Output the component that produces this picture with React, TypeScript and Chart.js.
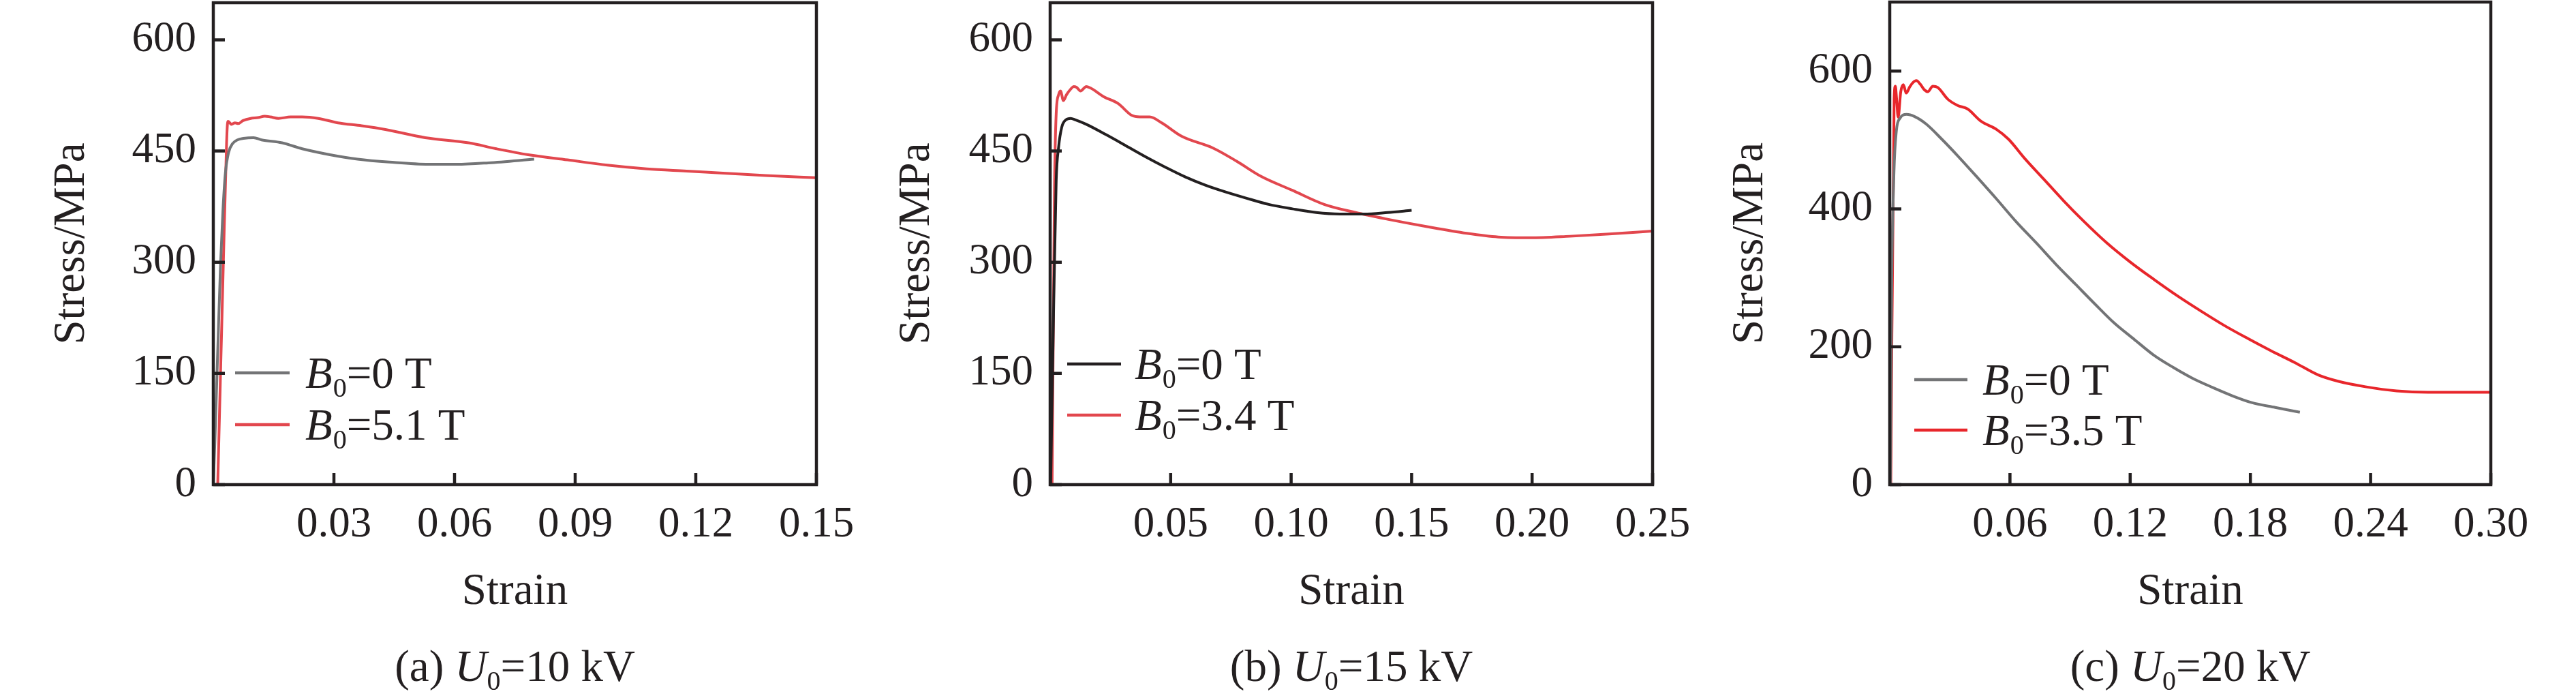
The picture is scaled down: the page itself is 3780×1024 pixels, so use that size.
import { useEffect, useRef } from 'react';
import Chart from 'chart.js/auto';

const SERIF = '"Liberation Serif", "Times New Roman", serif';
const INK = '#231f20';
const GRAY = '#737476';
const RED_SOFT = '#e2474e';
const RED = '#e8262b';

// (a) U0 = 10 kV
const strainA0 = [0, 0.0004, 0.0011, 0.0018, 0.0024, 0.003, 0.0038, 0.0048, 0.006, 0.0075, 0.01, 0.012, 0.0171, 0.0221, 0.029, 0.0359, 0.0438, 0.0536, 0.0605, 0.0684, 0.0798];
const stressA0 = [0, 60, 180, 297, 370, 420, 448, 460, 465, 467, 468, 465, 461, 453, 445, 439, 435, 432, 432, 434, 439];
const strainA1 = [0.0011, 0.0025, 0.0033, 0.0035, 0.0037, 0.0045, 0.0054, 0.0062, 0.0074, 0.0093, 0.0111, 0.0128, 0.0142, 0.0162, 0.0192, 0.0221, 0.0261, 0.031, 0.0369, 0.0428, 0.0527, 0.0635, 0.0704, 0.0783, 0.0881, 0.098, 0.1078, 0.1177, 0.1275, 0.1374, 0.15];
const stressA1 = [0, 300, 460, 485, 490, 486, 488, 487, 491, 494, 495, 497, 496, 494, 496, 496, 494, 488, 484, 479, 468, 461, 453, 445, 438, 431, 426, 423, 420, 417, 414];
const xTicksA = [0.03, 0.06, 0.09, 0.12, 0.15];
const yTicksA = [0, 150, 300, 450, 600];

// (b) U0 = 15 kV
const strainB0 = [0.0002, 0.0014, 0.0025, 0.0035, 0.0048, 0.0065, 0.0085, 0.0105, 0.015, 0.0232, 0.0315, 0.0397, 0.0479, 0.0561, 0.0644, 0.0726, 0.0808, 0.0907, 0.1005, 0.1104, 0.1202, 0.1301, 0.14, 0.15];
const stressB0 = [0, 230, 410, 455, 482, 492, 494, 492, 486, 472, 457, 442, 428, 415, 404, 395, 387, 378, 372, 367, 365, 365, 367, 370];
const strainB1 = [0.0008, 0.0018, 0.0025, 0.0035, 0.0043, 0.0055, 0.0068, 0.0084, 0.0098, 0.0109, 0.0126, 0.015, 0.0167, 0.0224, 0.0282, 0.0339, 0.0372, 0.0413, 0.0463, 0.0545, 0.0676, 0.0775, 0.0874, 0.1005, 0.1137, 0.1268, 0.14, 0.1564, 0.1729, 0.186, 0.1992, 0.2156, 0.232, 0.25];
const stressB1 = [0, 400, 500, 526, 531, 518, 526, 533, 537, 536, 531, 537, 535, 523, 514, 498, 496, 496, 488, 470, 454, 436, 416, 397, 378, 367, 358, 348, 339, 334, 333, 335, 338, 342];
const xTicksB = [0.05, 0.1, 0.15, 0.2, 0.25];
const yTicksB = [0, 150, 300, 450, 600];

// (c) U0 = 20 kV
const strainC0 = [0.0003, 0.001, 0.0021, 0.0033, 0.005, 0.0084, 0.0123, 0.0182, 0.026, 0.0339, 0.0436, 0.0534, 0.0632, 0.073, 0.0828, 0.0926, 0.1024, 0.1122, 0.1219, 0.1317, 0.1415, 0.1513, 0.1611, 0.1709, 0.1807, 0.1924, 0.2047];
const stressC0 = [0, 292, 453, 513, 531, 537, 534, 523, 501, 477, 446, 414, 381, 351, 320, 291, 262, 234, 211, 188, 170, 154, 141, 129, 119, 112, 105];
const strainC1 = [0.0005, 0.0022, 0.0028, 0.0034, 0.0042, 0.0055, 0.0068, 0.0082, 0.01, 0.0115, 0.0133, 0.0152, 0.0172, 0.019, 0.0215, 0.024, 0.029, 0.0339, 0.0388, 0.0456, 0.0534, 0.0593, 0.0671, 0.0769, 0.0867, 0.0965, 0.1082, 0.12, 0.1317, 0.1435, 0.1552, 0.1669, 0.1787, 0.1904, 0.2022, 0.2139, 0.2237, 0.2374, 0.253, 0.2687, 0.2844, 0.3];
const stressC1 = [0, 560, 578, 560, 533, 570, 580, 568, 577, 583, 586, 581, 573, 570, 578, 576, 559, 550, 545, 527, 515, 501, 474, 443, 412, 383, 351, 323, 298, 274, 252, 231, 212, 194, 177, 159, 150, 142, 136, 134, 134, 134];
const xTicksC = [0.06, 0.12, 0.18, 0.24, 0.3];
const yTicksC = [0, 200, 400, 600];

const CANVAS_W = 1260;
const CANVAS_H = 1024;

type Series = { strain: number[]; stress: number[]; color: string; field: string };

type PanelProps = {
  tag: string;
  kv: string;
  left: number;
  plotLeft: number;
  plotRight: number;
  plotTop: number;
  plotBottom: number;
  xMax: number;
  yMax: number;
  xTicks: number[];
  yTicks: number[];
  series: Series[];
  yTitleX: number;
  legendY: number[];
  legendX: number[];
};

function Panel(p: PanelProps) {
  const canvasRef = useRef<HTMLCanvasElement>(null);
  const chartRef = useRef<Chart | null>(null);

  useEffect(() => {
    if (!canvasRef.current) return;
    if (chartRef.current) chartRef.current.destroy();

    const frame = {
      id: 'frame',
      afterDraw(chart: any) {
        const { ctx, chartArea: a, scales } = chart;
        ctx.save();
        ctx.strokeStyle = INK;
        ctx.lineWidth = 4.5;
        ctx.lineCap = 'butt';
        ctx.strokeRect(a.left, a.top, a.right - a.left, a.bottom - a.top);
        ctx.beginPath();
        p.xTicks.forEach((v) => {
          const x = scales.x.getPixelForValue(v);
          ctx.moveTo(x, a.bottom);
          ctx.lineTo(x, a.bottom - 17);
        });
        p.yTicks.forEach((v) => {
          const y = scales.y.getPixelForValue(v);
          ctx.moveTo(a.left, y);
          ctx.lineTo(a.left + 17, y);
        });
        ctx.stroke();

        // legend with italic B and subscript 0
        p.series.forEach((s, i) => {
          const y = p.legendY[i];
          ctx.strokeStyle = s.color;
          ctx.lineWidth = 4.3;
          ctx.beginPath();
          ctx.moveTo(a.left + p.legendX[0], y);
          ctx.lineTo(a.left + p.legendX[1], y);
          ctx.stroke();
          ctx.fillStyle = INK;
          ctx.textBaseline = 'alphabetic';
          ctx.textAlign = 'left';
          let x = a.left + p.legendX[2];
          const base = y + 22;
          ctx.font = `italic 65px ${SERIF}`;
          ctx.fillText('B', x, base);
          x += ctx.measureText('B').width + 1;
          ctx.font = `40px ${SERIF}`;
          ctx.fillText('0', x, base + 13);
          x += ctx.measureText('0').width;
          ctx.font = `65px ${SERIF}`;
          ctx.fillText('=' + s.field, x, base);
        });
        ctx.restore();
      },
    };

    chartRef.current = new Chart(canvasRef.current, {
      type: 'line',
      data: {
        datasets: p.series.map((s) => ({
          data: s.strain.map((x, i) => ({ x, y: s.stress[i] })),
          borderColor: s.color,
          borderWidth: 4,
          pointRadius: 0,
          fill: false,
          cubicInterpolationMode: 'monotone' as const,
          borderJoinStyle: 'round' as const,
        })),
      },
      options: {
        animation: false,
        responsive: false,
        maintainAspectRatio: false,
        devicePixelRatio: 1,
        layout: {
          padding: {
            left: 0,
            top: p.plotTop,
            right: CANVAS_W - (p.plotRight - p.left),
            bottom: 0,
          },
        },
        plugins: {
          legend: { display: false },
          tooltip: { enabled: false },
        },
        scales: {
          x: {
            type: 'linear',
            min: 0,
            max: p.xMax,
            afterBuildTicks: (s: any) => {
              s.ticks = p.xTicks.map((v) => ({ value: v }));
            },
            afterFit: (s: any) => {
              s.height = CANVAS_H - p.plotBottom;
              s.paddingLeft = 0;
              s.paddingRight = 0;
            },
            grid: { display: false, drawTicks: false },
            border: { display: false },
            ticks: {
              padding: 22,
              color: INK,
              maxRotation: 0,
              autoSkip: false,
              font: { family: SERIF, size: 63, lineHeight: 1.2 },
              callback: (v: any) => Number(v).toFixed(2),
            },
            title: {
              display: true,
              text: 'Strain',
              color: INK,
              font: { family: SERIF, size: 65, lineHeight: 1.2 },
              padding: { top: 0, bottom: 116 },
            },
          },
          y: {
            type: 'linear',
            min: 0,
            max: p.yMax,
            afterBuildTicks: (s: any) => {
              s.ticks = p.yTicks.map((v) => ({ value: v }));
            },
            afterFit: (s: any) => {
              s.width = p.plotLeft - p.left;
              s.paddingTop = 0;
              s.paddingBottom = 0;
            },
            grid: { display: false, drawTicks: false },
            border: { display: false },
            ticks: {
              padding: 25,
              color: INK,
              autoSkip: false,
              font: { family: SERIF, size: 63, lineHeight: 1.2 },
              callback: (v: any) => String(v),
            },
            title: {
              display: true,
              text: 'Stress/MPa',
              color: INK,
              font: { family: SERIF, size: 65, lineHeight: 1.2 },
              padding: { top: p.yTitleX - 39, bottom: 0 },
            },
          },
        },
      },
      plugins: [frame],
    });

    return () => {
      if (chartRef.current) {
        chartRef.current.destroy();
        chartRef.current = null;
      }
    };
  }, []);

  const centre = (p.plotLeft + p.plotRight) / 2;

  return (
    <>
      <canvas
        ref={canvasRef}
        width={CANVAS_W}
        height={CANVAS_H}
        style={{ position: 'absolute', left: p.left, top: 0, width: CANVAS_W, height: CANVAS_H }}
      />
      <div
        style={{
          position: 'absolute',
          left: centre - 400,
          width: 800,
          top: 945,
          textAlign: 'center',
          fontFamily: SERIF,
          fontSize: 65,
          lineHeight: 1,
          color: INK,
          whiteSpace: 'nowrap',
        }}
      >
        ({p.tag}) <i>U</i>
        <span style={{ fontSize: 40, position: 'relative', top: 13 }}>0</span>={p.kv} kV
      </div>
    </>
  );
}

export default function App() {
  return (
    <div
      style={{
        position: 'absolute',
        left: 0,
        top: 0,
        width: 3780,
        height: 1024,
        background: '#fff',
        overflow: 'hidden',
      }}
    >
      <Panel
        tag="a"
        kv="10"
        left={0}
        plotLeft={313}
        plotRight={1198}
        plotTop={4}
        plotBottom={711}
        xMax={0.15}
        yMax={650}
        xTicks={xTicksA}
        yTicks={yTicksA}
        yTitleX={106}
        legendY={[547, 623]}
        legendX={[32, 112, 135]}
        series={[
          { strain: strainA0, stress: stressA0, color: GRAY, field: '0 T' },
          { strain: strainA1, stress: stressA1, color: RED_SOFT, field: '5.1 T' },
        ]}
      />
      <Panel
        tag="b"
        kv="15"
        left={1260}
        plotLeft={1541}
        plotRight={2425}
        plotTop={4}
        plotBottom={711}
        xMax={0.25}
        yMax={650}
        xTicks={xTicksB}
        yTicks={yTicksB}
        yTitleX={86}
        legendY={[534, 609]}
        legendX={[25, 104, 124]}
        series={[
          { strain: strainB0, stress: stressB0, color: INK, field: '0 T' },
          { strain: strainB1, stress: stressB1, color: RED_SOFT, field: '3.4 T' },
        ]}
      />
      <Panel
        tag="c"
        kv="20"
        left={2520}
        plotLeft={2773}
        plotRight={3655}
        plotTop={3}
        plotBottom={711}
        xMax={0.3}
        yMax={700}
        xTicks={xTicksC}
        yTicks={yTicksC}
        yTitleX={49}
        legendY={[557, 631]}
        legendX={[36, 114, 136]}
        series={[
          { strain: strainC0, stress: stressC0, color: GRAY, field: '0 T' },
          { strain: strainC1, stress: stressC1, color: RED, field: '3.5 T' },
        ]}
      />
    </div>
  );
}
